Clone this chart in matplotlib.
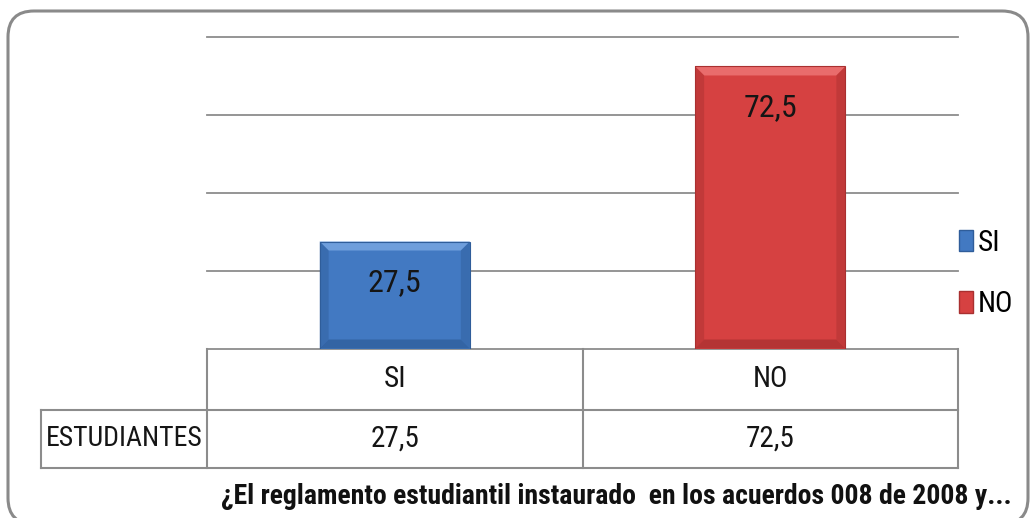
import matplotlib
matplotlib.use("Agg")
import matplotlib.pyplot as plt
from matplotlib.patches import FancyBboxPatch, Polygon, Patch
import matplotlib.transforms as mtransforms

# ---- data ----
categories = ["SI", "NO"]
values = [27.5, 72.5]
value_labels = ["27,5", "72,5"]
row_label = "ESTUDIANTES"
title = "¿El reglamento estudiantil instaurado  en los acuerdos 008 de 2008 y..."
y_ticks = [0, 20, 40, 60, 80]

face = ["#4279C2", "#D64141"]
light = ["#6E9EDC", "#E96C6C"]
dark = ["#2F5D9A", "#A93030"]

FONT = ["Roboto Condensed", "DejaVu Sans"]
plt.rcParams["font.family"] = FONT
plt.rcParams["font.stretch"] = "condensed"

W, H = 1031, 518
fig = plt.figure(figsize=(W / 100, H / 100), dpi=100)

# background frame (pixel coordinates)
bg = fig.add_axes([0, 0, 1, 1], zorder=0)
bg.set_xlim(0, W)
bg.set_ylim(H, 0)
bg.axis("off")
frame = FancyBboxPatch((8, 11), 1020, 513, boxstyle="round,pad=0,rounding_size=26",
                       facecolor="white", edgecolor="#8A8A8A", linewidth=2.2)
bg.add_patch(frame)

# plot area
L, R, T, B = 207, 958, 37.3, 348.5
ax = fig.add_axes([L / W, 1 - B / H, (R - L) / W, (B - T) / H], zorder=1)
ax.patch.set_alpha(0)
x = list(range(len(categories)))
bw = 0.4
bars = ax.bar(x, values, width=bw, color=face, edgecolor="none", zorder=3)
ax.set_xlim(-0.5, len(categories) - 0.5)
ax.set_ylim(y_ticks[0], y_ticks[-1])
ax.set_yticks(y_ticks)
ax.yaxis.grid(True, color="#8C8C8C", linewidth=1.3)
for gl in ax.get_ygridlines():
    gl.set_clip_on(False)
ax.set_axisbelow(True)
ax.tick_params(left=False, bottom=False, labelleft=False, labelbottom=False)
for s in ax.spines.values():
    s.set_visible(False)

# bevel effect on bars
px_x = (len(categories)) / (R - L)          # data units per pixel, x
px_y = (y_ticks[-1] - y_ticks[0]) / (B - T)  # data units per pixel, y
bev = 9
for i, b in enumerate(bars):
    x0, y0 = b.get_x(), b.get_y()
    x1, y1 = x0 + b.get_width(), y0 + b.get_height()
    dx, dy = bev * px_x, bev * px_y
    top = Polygon([(x0, y1), (x1, y1), (x1 - dx, y1 - dy), (x0 + dx, y1 - dy)],
                  closed=True, facecolor=light[i], edgecolor="none", zorder=4)
    left = Polygon([(x0, y0), (x0, y1), (x0 + dx, y1 - dy), (x0 + dx, y0 + dy)],
                   closed=True, facecolor=dark[i], edgecolor="none", zorder=4, alpha=0.45)
    right = Polygon([(x1, y0), (x1, y1), (x1 - dx, y1 - dy), (x1 - dx, y0 + dy)],
                    closed=True, facecolor=dark[i], edgecolor="none", zorder=4, alpha=0.45)
    bot = Polygon([(x0, y0), (x1, y0), (x1 - dx, y0 + dy), (x0 + dx, y0 + dy)],
                  closed=True, facecolor=dark[i], edgecolor="none", zorder=4, alpha=0.75)
    for p in (top, left, right, bot):
        ax.add_patch(p)
    ax.add_patch(plt.Rectangle((x0, y0), x1 - x0, y1 - y0, facecolor="none",
                               edgecolor=dark[i], linewidth=0.8, zorder=5))
    ax.text(b.get_x() + b.get_width() / 2, y1 - 41 * px_y, value_labels[i],
            ha="center", va="center", fontsize=23, color="#151515", zorder=6)

# data table below axes
tr = mtransforms.blended_transform_factory(ax.transData, ax.transAxes)
ta = ax.transAxes
y_div = -(409.5 - B) / (B - T)
y_bot = -(467.5 - B) / (B - T)
x_lab = (41 - L) / (R - L)
lc, lw = "#8C8C8C", 1.5
kw = dict(color=lc, linewidth=lw, clip_on=False, zorder=2)
for xe in [0, 0.5, 1]:
    ax.plot([xe, xe], [0, y_bot], transform=ta, **kw)
ax.plot([x_lab, x_lab], [y_div, y_bot], transform=ta, **kw)
ax.plot([x_lab, 1], [y_div, y_div], transform=ta, **kw)
ax.plot([x_lab, 1], [y_bot, y_bot], transform=ta, **kw)
for i, c in enumerate(categories):
    ax.text(x[i], (0 + y_div) / 2, c, transform=tr, ha="center", va="center",
            fontsize=21, color="#151515", clip_on=False)
    ax.text(x[i], (y_div + y_bot) / 2, value_labels[i], transform=tr, ha="center",
            va="center", fontsize=21, color="#151515", clip_on=False)
ax.text((x_lab + 0) / 2, (y_div + y_bot) / 2, row_label, transform=ta, ha="center",
        va="center", fontsize=20, color="#151515", clip_on=False)

# legend
handles = [Patch(facecolor=face[i], edgecolor=dark[i], label=categories[i])
           for i in range(len(categories))]
leg = fig.legend(handles=handles, loc="upper left", bbox_to_anchor=(944 / W, 1 - 214 / H),
                 frameon=False, fontsize=21, handlelength=0.5, handleheight=0.75,
                 handletextpad=0.15, labelspacing=1.15, borderpad=0)

# title
fig.text(616 / W, 1 - 496 / H, title, ha="center", va="center", fontsize=20,
         fontweight="bold", color="#111111")

fig.savefig("out.png", dpi=100)
